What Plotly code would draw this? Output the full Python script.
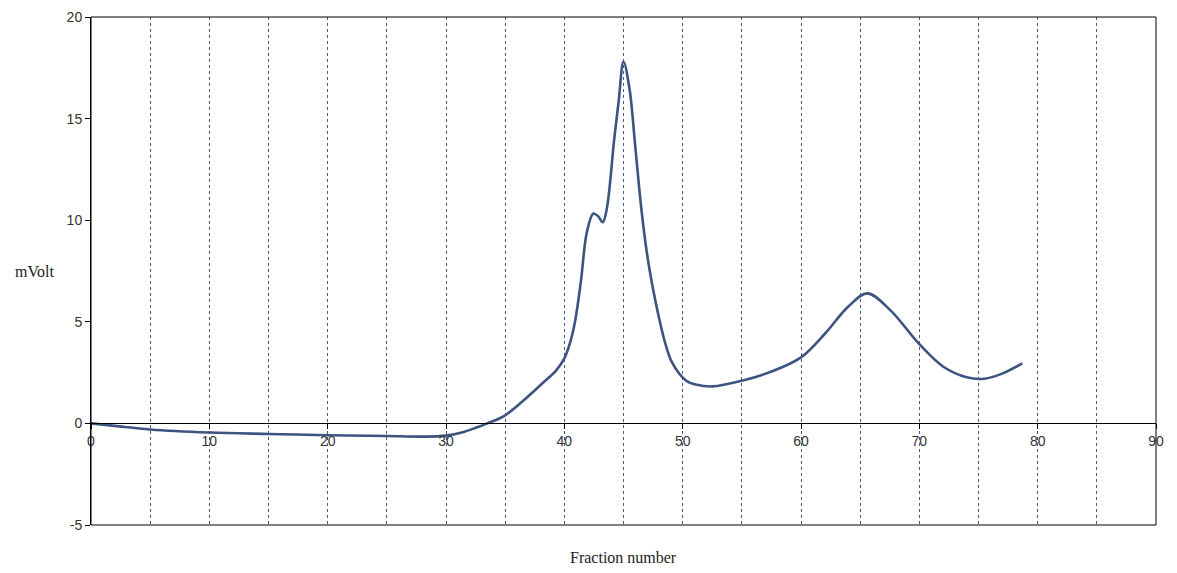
import plotly.graph_objects as go

fraction = [0, 2, 5, 10, 15, 20, 25, 28, 30, 31.5, 32.5, 33.5, 35, 36.5, 38.2, 39.3, 40.0, 40.5, 40.9, 41.4,
            41.9, 42.45, 42.85, 43.25, 43.6, 44.2, 44.6, 45.0, 45.5, 46.0, 46.5, 47.0, 47.5, 48.0, 48.5,
            49.1, 50.3, 51.2, 52.5, 55.0, 57.5, 60.0, 62.0, 64.0, 65.6, 67.5, 70.0, 72.0, 74.0, 75.5,
            77.0, 78.7]
mvolt = [0.0, -0.12, -0.3, -0.45, -0.52, -0.58, -0.62, -0.65, -0.6, -0.42, -0.22, 0.0, 0.4, 1.1, 2.0, 2.6,
         3.2, 4.0, 5.0, 7.0, 9.4, 10.33, 10.2, 9.9, 10.6, 13.9, 15.9, 17.8, 16.5, 13.6, 10.6, 8.3, 6.6, 5.2,
         4.0, 3.0, 2.1, 1.9, 1.82, 2.1, 2.55, 3.25, 4.4, 5.75, 6.4, 5.6, 3.9, 2.8, 2.27, 2.2, 2.45, 2.95]

x_ticks = [0, 10, 20, 30, 40, 50, 60, 70, 80, 90]
y_ticks = [-5, 0, 5, 10, 15, 20]

fig = go.Figure()
fig.add_trace(go.Scatter(
    x=fraction, y=mvolt, mode="lines",
    line=dict(color="#3d5380", width=2.6, shape="spline", smoothing=1.0),
    showlegend=False, hoverinfo="skip",
))

grid_color = "#3f5a8c"
fig.update_layout(
    width=1177, height=573,
    margin=dict(l=83, r=29, t=9, b=56, autoexpand=False),
    paper_bgcolor="white", plot_bgcolor="white",
    font=dict(family="Liberation Sans, Arial", size=14, color="#333"),
    xaxis=dict(
        range=[0, 90], tickvals=x_ticks, ticktext=[str(v) for v in x_ticks],
        anchor="free", position=0.2,
        showline=True, linecolor="black", linewidth=1,
        ticks="outside", ticklen=5, tickcolor="black",
        showgrid=True, gridcolor=grid_color, griddash="dot", gridwidth=1.2,
        minor=dict(dtick=5, tick0=0, showgrid=True, gridcolor=grid_color, griddash="dot", gridwidth=1.2, ticks=""),
        zeroline=False,
        tickfont=dict(size=14, color="#333"),
    ),
    yaxis=dict(
        range=[-5, 20], tickvals=y_ticks, ticktext=[str(v) for v in y_ticks],
        showline=True, linecolor="black", linewidth=1,
        ticks="outside", ticklen=5, tickcolor="black",
        showgrid=False, zeroline=False,
        tickfont=dict(size=14, color="#333"),
    ),
    shapes=[dict(type="rect", xref="paper", yref="paper", x0=0, x1=1, y0=0, y1=1,
                 line=dict(color="black", width=1), layer="above")],
    annotations=[
        dict(text="mVolt", xref="paper", yref="paper", x=-0.053, y=0.5, xanchor="center", yanchor="middle",
             showarrow=False, font=dict(family="Liberation Serif, Times New Roman", size=16, color="#222")),
        dict(text="Fraction number", xref="paper", yref="paper", x=0.5, y=-0.063, xanchor="center", yanchor="middle",
             showarrow=False, font=dict(family="Liberation Serif, Times New Roman", size=16, color="#222")),
    ],
)

fig.write_html("out.html")
